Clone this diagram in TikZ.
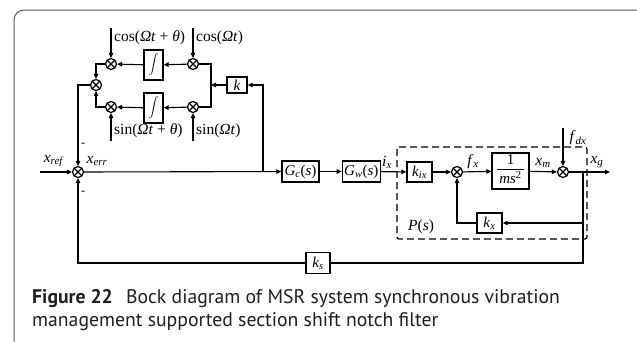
\documentclass[tikz,border=0pt]{standalone}
\usepackage{fontspec}
\setmainfont{Liberation Serif}
\newfontfamily\capfont{PT Sans}
\usetikzlibrary{arrows.meta, positioning, calc}
\definecolor{framegray}{RGB}{90,90,90}
\definecolor{captext}{RGB}{30,30,30}
\newcommand{\sub}[2]{\textit{#1}\textsubscript{\textit{#2}}}

\begin{document}
\begin{tikzpicture}[
        x=1pt, y=-1pt,
        % Styles
        block/.style={rectangle, draw, line width=1.3pt, inner sep=1pt,
                     minimum width=24pt, minimum height=20pt, font=\fontsize{15}{15}\selectfont},
        mult/.style={circle, draw, line width=1.2pt, minimum size=11pt, inner sep=0pt,
                    path picture={\draw[line width=1.1pt]
                      (path picture bounding box.north west) -- (path picture bounding box.south east)
                      (path picture bounding box.north east) -- (path picture bounding box.south west);}},
        arrow/.style={-{Triangle[length=5pt, width=4.5pt]}, line width=1.1pt},
        wire/.style={line width=1.1pt},
        sig/.style={font=\fontsize{15.5}{15.5}\selectfont, inner sep=1pt},
    ]
    \useasboundingbox (0,0) rectangle (637,341);

    % Frame
    \begin{scope}
        \clip (0,0) rectangle (637,341);
        \draw[framegray, line width=1pt, rounded corners=10pt] (14,10) rectangle (648,352);
    \end{scope}

    % Notch filter (top left)
    \node[mult] (m1) at (111,64) {};
    \node[mult] (m2) at (193,64) {};
    \node[mult] (m3) at (111,107) {};
    \node[mult] (m4) at (193,107) {};
    \node[block, minimum width=19pt, minimum height=30pt, inner sep=0pt, font=\fontsize{17}{17}\selectfont] (int1) at (153.5,65) {$\displaystyle\int$};
    \node[block, minimum width=19pt, minimum height=30pt, inner sep=0pt, font=\fontsize{17}{17}\selectfont] (int2) at (153.5,108) {$\displaystyle\int$};
    \node[mult] (msum) at (96,85) {};
    \node[block, minimum width=20pt, minimum height=16pt] (kbox) at (237,85) {\textit{k}};
    \coordinate (jn) at (211,85);

    % Reference signals
    \coordinate (c1in) at (111,28);
    \coordinate (c2in) at (193,28);
    \coordinate (s1in) at (111,141);
    \coordinate (s2in) at (193,141);
    \draw[arrow] (c1in) -- (m1);
    \draw[arrow] (c2in) -- (m2);
    \draw[arrow] (s1in) -- (m3);
    \draw[arrow] (s2in) -- (m4);
    \node[sig, anchor=west] (c1lab) at (113,38) {cos(\textit{Ωt} + \textit{θ})};
    \node[sig, anchor=west] (c2lab) at (195,38) {cos(\textit{Ωt})};
    \node[sig, anchor=west] (s1lab) at (113,131) {sin(\textit{Ωt} + \textit{θ})};
    \node[sig, anchor=west] (s2lab) at (195,131) {sin(\textit{Ωt})};

    % Arrows inside the filter
    \draw[arrow] (m2) -- (int1);
    \draw[arrow] (int1) -- (m1);
    \draw[arrow] (m4) -- (int2);
    \draw[arrow] (int2) -- (m3);
    \draw[arrow] (m1.west) -| (msum.north);
    \draw[arrow] (m3.west) -| (msum.south);
    \draw[wire] (m2.east) -| (jn) |- (m4.east);
    \draw[arrow] (kbox.west) -- (jn);

    % Main loop
    \node[mult] (s0) at (78,172) {};
    \coordinate (xin) at (40,172);
    \node[block, minimum width=37pt, minimum height=21pt] (gc) at (300.5,171.5) {\sub{G}{c}(\textit{s})};
    \node[block, minimum width=38pt, minimum height=21pt, right=22pt of gc] (gw) {\sub{G}{w}(\textit{s})};
    \node[block, minimum width=25pt, minimum height=20pt] (kix) at (419.5,172) {\sub{k}{ix}};
    \node[mult] (s2) at (457,172) {};
    \node[block, minimum width=37pt, minimum height=36pt, inner sep=0pt] (plant) at (510.5,171)
        {\begin{tabular}{@{\,}c@{\,}}1\\[0pt]\hline\rule{0pt}{14pt}\textit{ms}\textsuperscript{2}\end{tabular}};
    \node[mult] (s3) at (563,172) {};
    \coordinate (xout) at (610,172);
    \coordinate (fin) at (563,128);
    \coordinate (br1) at (263,172);
    \coordinate (br2) at (583,172);
    \node[block, minimum width=25pt, minimum height=20pt] (kx) at (489.5,223) {\sub{k}{x}};
    \node[block, minimum width=24pt, minimum height=21pt] (ks) at (318,263) {\sub{k}{s}};

    \draw[arrow] (xin) -- (s0);
    \draw[arrow] (msum.west) -| (s0.north);
    \draw[arrow] (s0) -- (gc);
    \draw[arrow] (br1) |- (kbox.east);
    \draw[arrow] (gc) -- (gw);
    \draw[arrow] (gw) -- (kix);
    \draw[arrow] (kix) -- (s2);
    \draw[arrow] (s2) -- (plant);
    \draw[arrow] (plant) -- (s3);
    \draw[arrow] (fin) -- (s3);
    \draw[arrow] (s3) -- (xout);
    \draw[arrow] (br2) |- (kx.east);
    \draw[arrow] (kx.west) -| (s2.south);
    \draw[wire] (br2) |- (ks.east);
    \draw[arrow] (ks.west) -| (s0.south);

    % Plant boundary
    \draw[line width=1.2pt, dash pattern=on 7pt off 4pt, rounded corners=2pt] (397,147) rectangle (587,239);
    \node[sig, anchor=west] (plab) at (407,227) {\textit{P}(\textit{s})};

    % Labels
    \node[sig] (lxref) at (54,161) {\sub{x}{ref}};
    \node[sig] (lxerr) at (97,161) {\sub{x}{err}};
    \node[sig] (lix) at (387,162) {\sub{i}{x}};
    \node[sig] (lfx) at (473,162) {\sub{f}{x}};
    \node[sig] (lxm) at (543,163) {\sub{x}{m}};
    \node[sig] (lxg) at (597,162) {\sub{x}{g}};
    \node[sig] (lfdx) at (578,138) {\sub{f}{dx}};
    \node[sig, font=\fontsize{12}{12}\selectfont] (minus1) at (83,145) {-};
    \node[sig, font=\fontsize{12}{12}\selectfont] (minus2) at (83,193) {-};

    % Caption
    \node[anchor=base west, inner sep=0pt, align=left, text=captext,
          font=\capfont\fontsize{19.7}{23}\selectfont] (caption) at (32,326)
        {\textbf{Figure 22}\hspace{0.4em} Bock diagram of MSR system synchronous vibration\\
         management supported section shift notch filter};
\end{tikzpicture}
\end{document}
